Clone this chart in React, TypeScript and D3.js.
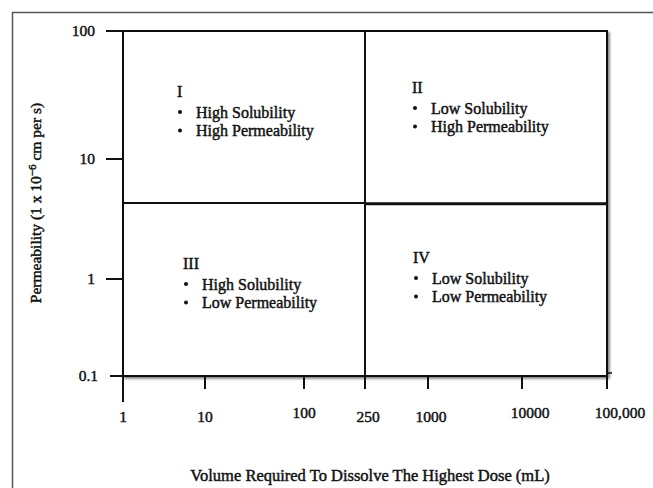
import React from "react";
import * as d3 from "d3";

// ---- data ----
const xTickValues = [1, 10, 100, 250, 1000, 10000, 100000];
const xTickLabels = ["1", "10", "100", "250", "1000", "10000", "100,000"];
const yTickValues = [0.1, 1, 10, 100];
const yTickLabels = ["0.1", "1", "10", "100"];
const volumeBoundary = 250; // mL
const permeabilityBoundary = 4.3; // 1e-6 cm/s
const quadrantNames = ["I", "II", "III", "IV"];
const quadrantLines = [
  ["High Solubility", "High Permeability"],
  ["Low Solubility", "High Permeability"],
  ["High Solubility", "Low Permeability"],
  ["Low Solubility", "Low Permeability"],
];
const xTitle = "Volume Required To Dissolve The Highest Dose (mL)";

const W = 653;
const H = 488;
const FONT = "'Liberation Serif', 'Times New Roman', serif";
const INK = "#111";
const TEXT_STROKE = 0.45;

export default function App() {
  // piecewise log scales matching the hand-drawn axis spacing
  const x = d3
    .scaleLog()
    .domain(xTickValues)
    .range([123, 205, 304, 365, 428, 522, 607]);
  const y = d3
    .scaleLog()
    .domain(yTickValues)
    .range([376, 279, 159, 31]);

  const left = x(1);
  const right = x(100000);
  const top = y(100);
  const bottom = y(0.1);
  const xb = x(volumeBoundary);
  const yb = y(permeabilityBoundary);

  // label placement relative to each quadrant's top-left corner
  const quadLayout = [
    { x0: left, y0: top, dx: 54, dy: 60 },
    { x0: xb, y0: top, dx: 47, dy: 56 },
    { x0: left, y0: yb, dx: 60, dy: 60 },
    { x0: xb, y0: yb, dx: 48, dy: 54 },
  ];
  const labelDx = [0, 0, 0, 3, 3, 8, 13];
  const labelDy = [0, 0, -4, 0, 0, -4, -4];

  const textProps = { fill: INK, stroke: INK, strokeWidth: TEXT_STROKE };

  return (
    <svg
      width={W}
      height={H}
      style={{ position: "absolute", left: 0, top: 0, background: "#fff" }}
      fontFamily={FONT}
    >
      <defs>
        <filter id="shadow" x="-5%" y="-5%" width="115%" height="115%">
          <feDropShadow dx="2" dy="2" stdDeviation="1.3" floodColor="#000" floodOpacity="0.45" />
        </filter>
      </defs>
      <rect width={W} height={H} fill="#fff" />
      {/* outer frame */}
      <path d={`M12.5,${H} L12.5,12.5 L${W},12.5`} fill="none" stroke="#555" strokeWidth={1.5} />

      {/* plot border with shadow */}
      <rect
        x={left}
        y={top}
        width={right - left}
        height={bottom - top}
        fill="#fff"
        stroke={INK}
        strokeWidth={2}
        filter="url(#shadow)"
      />

      {/* dividers */}
      <line x1={xb} x2={xb} y1={top} y2={bottom + 13} stroke={INK} strokeWidth={2} />
      <line x1={left} x2={xb} y1={yb} y2={yb} stroke={INK} strokeWidth={2} />
      <line x1={xb} x2={right} y1={yb + 0.8} y2={yb + 0.8} stroke={INK} strokeWidth={3} />

      {/* y ticks */}
      {yTickValues.map((v, i) => (
        <g key={"y" + i}>
          <line x1={left - (v === 0.1 ? 13 : 17)} x2={left} y1={y(v)} y2={y(v)} stroke={INK} strokeWidth={2} />
          <text
            x={left - (v === 0.1 ? 25 : 28)}
            y={y(v)}
            dy="0.35em"
            textAnchor="end"
            fontSize={15.5}
            {...textProps}
          >
            {yTickLabels[i]}
          </text>
        </g>
      ))}

      {/* x ticks */}
      {xTickValues.map((v, i) => (
        <g key={"x" + i}>
          <line
            x1={x(v)}
            x2={x(v)}
            y1={bottom}
            y2={v === 1 ? bottom + 26 : bottom + 13}
            stroke={INK}
            strokeWidth={2}
          />
          <text
            x={x(v) + labelDx[i]}
            y={bottom + 41 + labelDy[i]}
            dy="0.35em"
            textAnchor="middle"
            fontSize={15.5}
            {...textProps}
          >
            {xTickLabels[i]}
          </text>
        </g>
      ))}
      {/* small stub at lower right */}
      <line x1={right} x2={right + 5} y1={bottom - 3} y2={bottom - 3} stroke={INK} strokeWidth={1.5} />

      {/* quadrant labels */}
      {quadrantNames.map((name, qi) => {
        const L = quadLayout[qi];
        const bx = L.x0 + L.dx;
        const by = L.y0 + L.dy;
        return (
          <g key={"q" + qi} fontSize={16}>
            <text x={bx} y={by} dy="0.35em" {...textProps}>
              {name}
            </text>
            {quadrantLines[qi].map((t, li) => (
              <g key={li}>
                <circle cx={bx + 3} cy={by + 21 + li * 18.5} r={2} fill={INK} />
                <text x={bx + 19} y={by + 21 + li * 18.5} dy="0.35em" {...textProps}>
                  {t}
                </text>
              </g>
            ))}
          </g>
        );
      })}

      {/* axis titles */}
      <text x={370} y={475} dy="0.35em" textAnchor="middle" fontSize={16.5} {...textProps}>
        {xTitle}
      </text>
      <text
        transform={`translate(41, 203) rotate(-90)`}
        textAnchor="middle"
        fontSize={15.5}
        {...textProps}
      >
        Permeability (1 x 10
        <tspan dy={-5} fontSize={11}>−6</tspan>
        <tspan dy={5}> cm per s)</tspan>
      </text>
    </svg>
  );
}
